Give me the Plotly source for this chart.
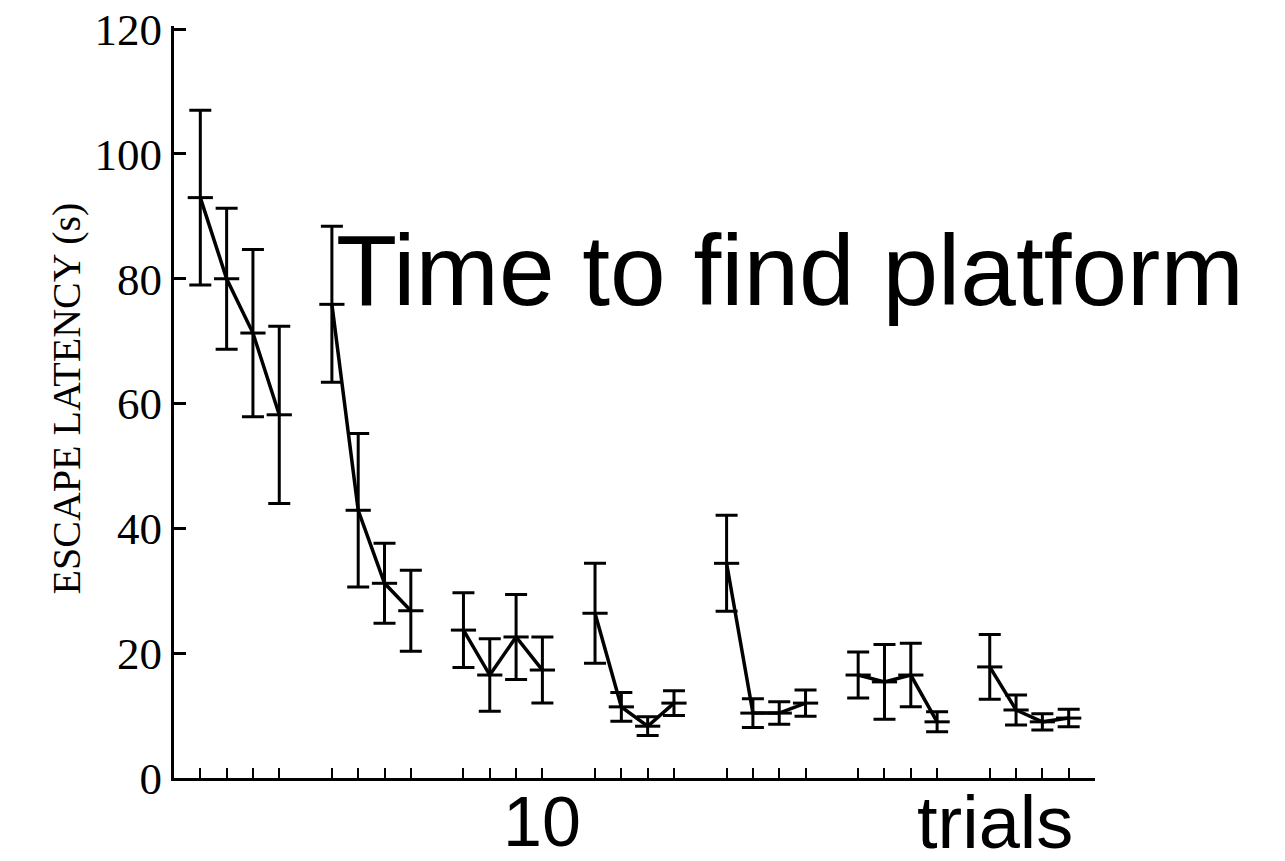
import plotly.graph_objects as go

# Escape latency (s), 7 blocks of 4 trials
means = [93.0, 80.0, 71.3, 58.2,
         75.9, 42.9, 31.2, 26.8,
         23.7, 16.5, 22.6, 17.3,
         26.4, 11.4, 8.3, 12.0,
         34.4, 10.4, 10.4, 12.0,
         16.5, 15.4, 16.5, 9.0,
         17.8, 10.9, 9.0, 9.6]
errors = [14.0, 11.3, 13.4, 14.2,
          12.5, 12.3, 6.4, 6.5,
          6.0, 5.8, 6.8, 5.3,
          8.0, 2.3, 1.5, 2.0,
          7.7, 2.3, 1.8, 2.1,
          3.7, 6.0, 5.1, 1.6,
          5.2, 2.4, 1.3, 1.4]
trials_per_block = 4
n_blocks = 7
y_ticks = [0, 20, 40, 60, 80, 100, 120]

fig = go.Figure()
slots_all = []
for b in range(n_blocks):
    xs = [b * (trials_per_block + 1) + i + 1 for i in range(trials_per_block)]
    slots_all += xs
    ys = means[b * trials_per_block:(b + 1) * trials_per_block]
    es = errors[b * trials_per_block:(b + 1) * trials_per_block]
    fig.add_trace(go.Scatter(
        x=xs, y=ys, mode="lines+markers",
        line=dict(color="black", width=3.5),
        marker=dict(symbol="line-ew-open", size=18, color="black",
                    line=dict(color="black", width=3)),
        error_y=dict(type="data", array=es, visible=True, color="black",
                     thickness=3, width=11),
        showlegend=False, hoverinfo="skip"))

fig.update_layout(
    width=1285, height=861,
    margin=dict(l=166, r=198, t=18, b=91),
    paper_bgcolor="white", plot_bgcolor="white",
    xaxis=dict(range=[0, 35], showgrid=False, zeroline=False, automargin=False,
               showline=True, linecolor="black", linewidth=3,
               ticks="inside", ticklen=10, tickwidth=2, tickcolor="black",
               tickvals=slots_all, showticklabels=False),
    yaxis=dict(range=[0, 120.5], showgrid=False, zeroline=False, automargin=False,
               showline=True, linecolor="black", linewidth=3,
               ticks="inside", ticklen=12, tickwidth=2.5, tickcolor="black",
               tickvals=y_ticks, ticklabeloverflow="allow",
               tickfont=dict(family="Liberation Serif", size=45, color="black")),
    annotations=[
        dict(text="Time to find platform", xref="paper", yref="paper",
             x=0.1735, y=0.675, xanchor="left", yanchor="middle",
             showarrow=False,
             font=dict(family="Liberation Sans", size=100, color="black")),
        dict(text="ESCAPE LATENCY (s)", xref="paper", yref="paper",
             x=-0.117, y=0.505, xanchor="center", yanchor="middle",
             textangle=-90, showarrow=False,
             font=dict(family="Liberation Serif", size=40, color="black")),
        dict(text="10", xref="x", yref="paper",
             x=14, y=-0.059, xanchor="center", yanchor="middle",
             showarrow=False,
             font=dict(family="Liberation Sans", size=70, color="black")),
        dict(text="trials", xref="x", yref="paper",
             x=31.2, y=-0.059, xanchor="center", yanchor="middle",
             showarrow=False,
             font=dict(family="Liberation Sans", size=74, color="black")),
    ],
)

fig.write_html("out.html")
